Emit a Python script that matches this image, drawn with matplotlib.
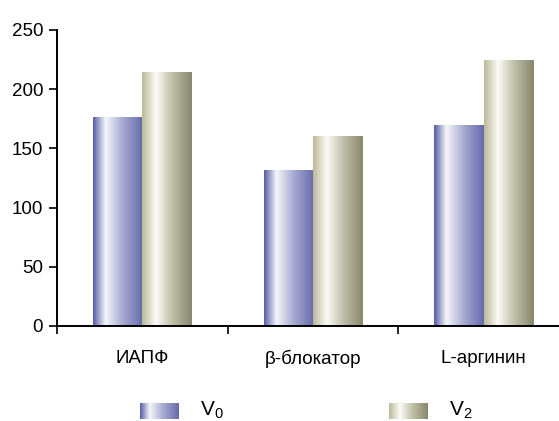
import matplotlib
matplotlib.use("Agg")
import matplotlib.pyplot as plt
import numpy as np
from matplotlib.colors import LinearSegmentedColormap

categories = ["ИАПФ", "β-блокатор", "L-аргинин"]
v0_values = [176, 131, 169]
v2_values = [214, 160, 224]
series_labels = ["V$_0$", "V$_2$"]
y_ticks = [0, 50, 100, 150, 200, 250]

FONT = ["Liberation Sans Narrow", "Liberation Sans", "DejaVu Sans"]
plt.rcParams["font.family"] = FONT
plt.rcParams["mathtext.fontset"] = "custom"
plt.rcParams["mathtext.rm"] = "Liberation Sans"
plt.rcParams["mathtext.it"] = "Liberation Sans"

blue_cmap = LinearSegmentedColormap.from_list(
    "blue", [(0.0, "#565ca4"), (0.25, "#f6f6fb"), (0.6, "#a6a9d0"), (1.0, "#666bab")])
tan_cmap = LinearSegmentedColormap.from_list(
    "tan", [(0.0, "#bbb998"), (0.28, "#fcfcf7"), (0.6, "#c1c0a9"), (1.0, "#87876c")])
grad = np.linspace(0, 1, 256).reshape(1, -1)

W, H = 559, 421
fig = plt.figure(figsize=(W / 100, H / 100), dpi=100)
ax = fig.add_axes([57 / W, 95 / H, 512 / W, 296 / H])

x = np.arange(len(categories))
width = 0.29
bars0 = ax.bar(x - width / 2, v0_values, width, color="none", edgecolor="none")
bars2 = ax.bar(x + width / 2, v2_values, width, color="none", edgecolor="none")

for bars, cmap in ((bars0, blue_cmap), (bars2, tan_cmap)):
    for b in bars:
        x0, y0 = b.get_x(), b.get_y()
        ax.imshow(grad, cmap=cmap, aspect="auto", interpolation="bilinear",
                  extent=(x0, x0 + b.get_width(), y0, y0 + b.get_height()), zorder=2)

ax.set_xlim(-0.5, len(categories) - 0.5)
ax.set_ylim(0, 250)
ax.set_yticks(y_ticks)
ax.set_yticklabels([str(t) for t in y_ticks], fontsize=13.5)
ax.set_xticks(x)
ax.set_xticklabels(categories, fontsize=13.5)
ax.set_xticks(np.arange(len(categories) + 1) - 0.5, minor=True)
ax.tick_params(axis="x", which="major", length=0, pad=17)
ax.tick_params(axis="x", which="minor", length=6, width=1.2, direction="out")
ax.tick_params(axis="y", length=6, width=1.2, direction="out", pad=4)
for s in ("top", "right"):
    ax.spines[s].set_visible(False)
for s in ("left", "bottom"):
    ax.spines[s].set_linewidth(1.4)

# legend drawn by hand so the swatches keep the gradient fill
for (sx, tx), cmap, label in zip(((140, 200), (389, 449)), (blue_cmap, tan_cmap), series_labels):
    lax = fig.add_axes([sx / W, (H - 419) / H, 39 / W, 16 / H])
    lax.imshow(grad, cmap=cmap, aspect="auto", interpolation="bilinear")
    lax.axis("off")
    fig.text(tx / W, (H - 410) / H, label, fontsize=15, va="center", ha="left")

fig.savefig("out.png", dpi=100)
